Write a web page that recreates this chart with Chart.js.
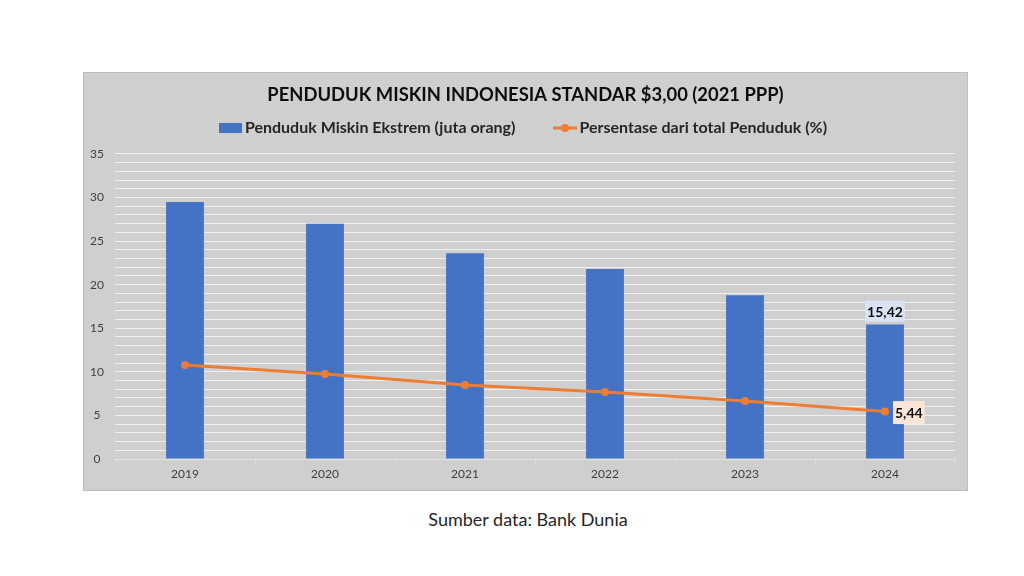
<!DOCTYPE html>
<html><head><meta charset="utf-8">
<script src="https://cdn.jsdelivr.net/npm/chart.js@4/dist/chart.umd.min.js"></script>
<style>
html,body{margin:0;padding:0;background:#fff;width:1024px;height:576px;overflow:hidden;font-family:Lato,sans-serif;}
#box{position:absolute;left:83px;top:72px;width:883px;height:417px;border:1px solid #bdbdbd;background:#cfcfcf;}
#cap{position:absolute;left:16px;width:1024px;top:507px;text-align:center;font-size:18px;line-height:24px;color:#262626;}
</style></head>
<body>
<div id="box"><canvas id="c"></canvas></div>
<div id="cap">Sumber data: Bank Dunia</div>
<script>
const titleText = 'PENDUDUK MISKIN INDONESIA STANDAR $3,00 (2021 PPP)';
const seriesNames = ['Penduduk Miskin Ekstrem (juta orang)', 'Persentase dari total Penduduk (%)'];
const years = ['2019', '2020', '2021', '2022', '2023', '2024'];
const poorMillions = [29.5, 27.0, 23.6, 21.8, 18.8, 15.42];
const poorPercent = [10.8, 9.75, 8.5, 7.7, 6.65, 5.44];
const yTickLabels = ['0', '5', '10', '15', '20', '25', '30', '35'];
const labelledIndex = [5];

const BLUE = '#4472C4', ORANGE = '#ED7D31';
const fmt = v => v.toFixed(2).replace('.', ',');

function barIcon(){ const c=document.createElement('canvas'); c.width=23; c.height=10; const g=c.getContext('2d'); g.fillStyle=BLUE; g.fillRect(0,0,23,10); return c; }
function lineIcon(){ const c=document.createElement('canvas'); c.width=24; c.height=10; const g=c.getContext('2d'); g.strokeStyle=ORANGE; g.lineWidth=3; g.beginPath(); g.moveTo(0,5); g.lineTo(24,5); g.stroke(); g.fillStyle=ORANGE; g.beginPath(); g.arc(12,5,4,0,Math.PI*2); g.fill(); return c; }

const valueLabels = {
  id: 'valueLabels',
  afterDatasetsDraw(chart){
    const ctx = chart.ctx;
    const bm = chart.getDatasetMeta(0), lm = chart.getDatasetMeta(1);
    ctx.save();
    ctx.font = 'bold 14px Lato';
    ctx.textBaseline = 'middle';
    labelledIndex.forEach(i => {
      const b = bm.data[i];
      let t = fmt(poorMillions[i]);
      let w = ctx.measureText(t).width + 4, h = 21;
      let x = b.x - w/2, y = b.y - 3 - h;
      ctx.fillStyle = '#dae3f3'; ctx.fillRect(x, y, w, h);
      ctx.fillStyle = '#0d0d0d'; ctx.textAlign = 'center'; ctx.fillText(t, b.x, y + h/2 + 1);
      const p = lm.data[i];
      t = fmt(poorPercent[i]);
      w = ctx.measureText(t).width + 4; h = 23;
      x = p.x + 8; y = p.y + 1 - h/2;
      ctx.fillStyle = '#fbe5d6'; ctx.fillRect(x, y, w, h);
      ctx.fillStyle = '#0d0d0d'; ctx.fillText(t, x + w/2, y + h/2 + 1);
    });
    ctx.restore();
  }
};

new Chart(document.getElementById('c'), {
  data: {
    labels: years,
    datasets: [
      { type: 'bar', label: seriesNames[0], data: poorMillions, backgroundColor: BLUE, barPercentage: 0.27, categoryPercentage: 1, order: 2 },
      { type: 'line', label: seriesNames[1], data: poorPercent, borderColor: ORANGE, backgroundColor: ORANGE, borderWidth: 3, pointRadius: 4, pointHoverRadius: 4, pointBackgroundColor: ORANGE, pointBorderWidth: 0, tension: 0, order: 1 }
    ]
  },
  options: {
    responsive: true, maintainAspectRatio: false, animation: false,
    layout: { padding: { left: 0, right: 0, top: 0, bottom: 0 } },
    plugins: {
      title: { display: true, text: titleText, color: '#0d0d0d', font: { family: 'Lato', size: 18.4, weight: 'bold', lineHeight: 1.2 }, padding: { top: 11, bottom: -29.1 } },
      subtitle: { display: true, text: '', weight: 500, font: { size: 8, lineHeight: 1 }, padding: 0 },
      legend: {
        labels: {
          color: '#262626', font: { family: 'Lato', size: 16, weight: 'bold' },
          usePointStyle: true, pointStyleWidth: 13, padding: 43,
          generateLabels(chart){
            return chart.data.datasets.map((d, i) => ({ text: d.label, pointStyle: i === 0 ? barIcon() : lineIcon(), fontColor: '#262626', datasetIndex: i, hidden: false, lineWidth: 0 }));
          }
        }
      },
      tooltip: { enabled: false }
    },
    scales: {
      x: {
        afterFit(s){ s.height = 31; },
        offset: true,
        grid: { display: true, drawOnChartArea: false, drawTicks: true, tickLength: 4, color: '#e2e2e2', offset: true },
        border: { display: true, color: '#e2e2e2' },
        ticks: { color: '#404040', font: { family: 'Lato', size: 12 }, padding: 4 }
      },
      y: {
        afterFit(s){ s.width = 31; },
        min: 0, max: 35,
        grid: { color: c => c.tick.value === 0 ? 'rgba(0,0,0,0)' : '#efefef', lineWidth: 1, drawTicks: false },
        border: { display: false },
        ticks: { stepSize: 1, autoSkip: false, color: '#404040', font: { family: 'Lato', size: 12 }, padding: 11, crossAlign: 'center',
          callback: v => (v % 5 === 0 ? yTickLabels[v / 5] : '') }
      },
      yRightMargin: {
        position: 'right', display: true, afterFit(s){ s.width = 12; },
        grid: { display: false, drawTicks: false }, border: { display: false }, ticks: { display: false }
      }
    }
  },
  plugins: [valueLabels]
});
</script>
</body></html>
